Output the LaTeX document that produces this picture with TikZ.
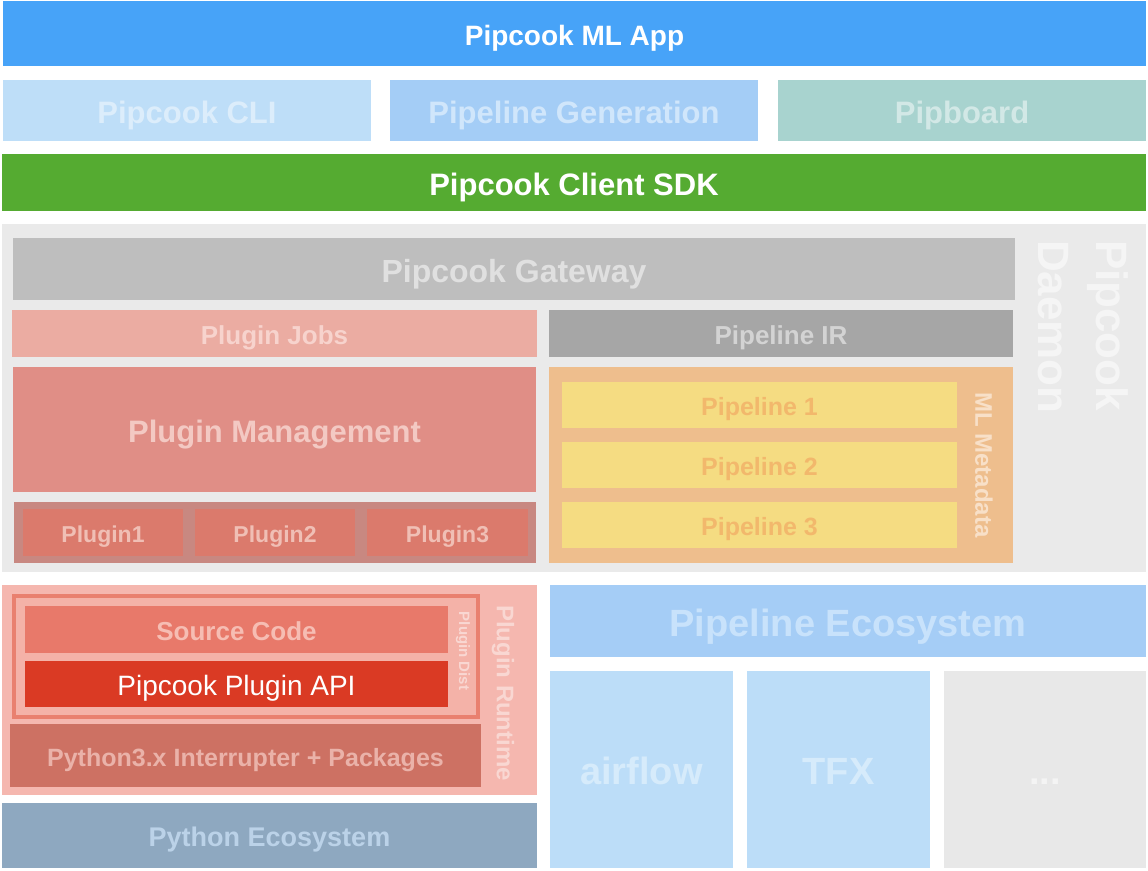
\documentclass[tikz,border=0pt]{standalone}
\usepackage{fontspec}
\setmainfont{Liberation Sans}
\newcommand\fz[1]{\fontsize{#1}{#1}\selectfont\bfseries}
\newcommand\fr[1]{\fontsize{#1}{#1}\selectfont}
\definecolor{cApp}{HTML}{47A3F8}
\definecolor{cCli}{HTML}{BEDEF8}
\definecolor{tCli}{HTML}{DCEDFB}
\definecolor{cGen}{HTML}{A4CDF6}
\definecolor{tGen}{HTML}{D0E6FB}
\definecolor{cBoard}{HTML}{A8D3CF}
\definecolor{tBoard}{HTML}{D2E8E6}
\definecolor{cSdk}{HTML}{55AB31}
\definecolor{cDaemon}{HTML}{EAEAEA}
\definecolor{tDaemon}{HTML}{F5F5F5}
\definecolor{cGate}{HTML}{BEBEBE}
\definecolor{tGate}{HTML}{E0E0E0}
\definecolor{cJobs}{HTML}{EBACA2}
\definecolor{tJobs}{HTML}{F7D3CD}
\definecolor{cIR}{HTML}{A6A6A6}
\definecolor{tIR}{HTML}{D3D3D3}
\definecolor{cMgmt}{HTML}{E08E86}
\definecolor{tMgmt}{HTML}{F3C9C3}
\definecolor{cPlugs}{HTML}{C88881}
\definecolor{cPlug}{HTML}{DB7A6C}
\definecolor{tPlug}{HTML}{F0BFB5}
\definecolor{cMeta}{HTML}{EEBE8D}
\definecolor{tMeta}{HTML}{F8E0C8}
\definecolor{cPipe}{HTML}{F5DC82}
\definecolor{tPipe}{HTML}{F2B86C}
\definecolor{cRun}{HTML}{F5B7AF}
\definecolor{cDistIn}{HTML}{F4B2A8}
\definecolor{tRun}{HTML}{F9D7D2}
\definecolor{cFrame}{HTML}{E9806F}
\definecolor{cSrc}{HTML}{E8796A}
\definecolor{tSrc}{HTML}{F6BDB3}
\definecolor{cApi}{HTML}{DA3A24}
\definecolor{cPy}{HTML}{CD7163}
\definecolor{tPy}{HTML}{EAB2A9}
\definecolor{cPyEco}{HTML}{8EA8C0}
\definecolor{tPyEco}{HTML}{BBD2E8}
\definecolor{cPlEco}{HTML}{A5CDF6}
\definecolor{tPlEco}{HTML}{C8E2FB}
\definecolor{cTool}{HTML}{BCDDF8}
\definecolor{tTool}{HTML}{D6EBFB}
\definecolor{cMore}{HTML}{E8E8E8}
\definecolor{tMore}{HTML}{F4F4F4}
\begin{document}
\begin{tikzpicture}[x=1pt,y=-1pt,
  blk/.style={rectangle, draw=none, inner sep=0pt, outer sep=0pt, anchor=north west, text depth=0pt},
  fb/.style 2 args={font=\fz{#1}, text height=#2pt},
  fn/.style 2 args={font=\fr{#1}, text height=#2pt},
  vlbl/.style={inner sep=0pt, outer sep=0pt, rotate=-90}]
\useasboundingbox (0,0) rectangle (1148,870);
\fill[white] (0,0) rectangle (1148,870);
% top layers
\node[blk, fill=cApp, minimum width=1143pt, minimum height=65pt, text=white, fb={28}{23}] (app) at (3,1) {Pipcook ML App};
\node[blk, fill=cCli, minimum width=368pt, minimum height=61pt, text=tCli, fb={31}{25}] (cli) at (3,80) {Pipcook CLI};
\node[blk, fill=cGen, minimum width=368pt, minimum height=61pt, text=tGen, fb={31}{25}] (gen) at (390,80) {Pipeline Generation};
\node[blk, fill=cBoard, minimum width=368pt, minimum height=61pt, text=tBoard, fb={31}{25}] (board) at (778,80) {Pipboard};
\node[blk, fill=cSdk, minimum width=1144pt, minimum height=57pt, text=white, fb={31}{25}] (sdk) at (2,154) {Pipcook Client SDK};
% daemon
\node[blk, fill=cDaemon, minimum width=1144pt, minimum height=348pt] (daemon) at (2,224) {};
\node[vlbl, anchor=north west, text=tDaemon, align=left, font=\fontsize{44}{58}\selectfont\bfseries] (daemonlbl) at (1128,240) {Pipcook\\Daemon};
\node[blk, fill=cGate, minimum width=1002pt, minimum height=62pt, text=tGate, fb={32}{26}] (gate) at (13,238) {Pipcook Gateway};
\node[blk, fill=cJobs, minimum width=525pt, minimum height=47pt, text=tJobs, fb={26}{21.5}] (jobs) at (12,310) {Plugin Jobs};
\node[blk, fill=cIR, minimum width=464pt, minimum height=47pt, text=tIR, fb={26}{21.5}] (ir) at (549,310) {Pipeline IR};
\node[blk, fill=cMgmt, minimum width=523pt, minimum height=125pt, text=tMgmt, fb={31}{25}] (mgmt) at (13,367) {Plugin Management};
\node[blk, fill=cPlugs, minimum width=522pt, minimum height=61pt] (plugs) at (14,502) {};
\node[blk, fill=cPlug, minimum width=160pt, minimum height=47pt, text=tPlug, fb={23}{19}] (p1) at (23,509) {Plugin1};
\node[blk, fill=cPlug, minimum width=160pt, minimum height=47pt, text=tPlug, fb={23}{19}] (p2) at (195,509) {Plugin2};
\node[blk, fill=cPlug, minimum width=161pt, minimum height=47pt, text=tPlug, fb={23}{19}] (p3) at (367,509) {Plugin3};
\node[blk, fill=cMeta, minimum width=464pt, minimum height=196pt] (meta) at (549,367) {};
\node[blk, fill=cPipe, minimum width=395pt, minimum height=46pt, text=tPipe, fb={25}{21}] (pl1) at (562,382) {Pipeline 1};
\node[blk, fill=cPipe, minimum width=395pt, minimum height=46pt, text=tPipe, fb={25}{21}] (pl2) at (562,442) {Pipeline 2};
\node[blk, fill=cPipe, minimum width=395pt, minimum height=46pt, text=tPipe, fb={25}{21}] (pl3) at (562,502) {Pipeline 3};
\node[vlbl, text=tMeta, font=\fz{24}] (metalbl) at (984,465) {ML Metadata};
% plugin runtime
\node[blk, fill=cRun, minimum width=535pt, minimum height=210pt] (run) at (2,585) {};
\node[vlbl, text=tRun, font=\fz{24}] (runlbl) at (503,693) {Plugin Runtime};
\node[blk, draw=cFrame, line width=4pt, fill=cDistIn, minimum width=464pt, minimum height=121pt] (dist) at (14,596) {};
\node[vlbl, text=tRun, font=\fz{15}] (distlbl) at (463,651) {Plugin Dist};
\node[blk, fill=cSrc, minimum width=423pt, minimum height=47pt, text=tSrc, fb={26}{21.5}] (src) at (25,606) {Source Code};
\node[blk, fill=cApi, minimum width=423pt, minimum height=46pt, text=white, fn={28}{23}] (api) at (25,661) {Pipcook Plugin API};
\node[blk, fill=cPy, minimum width=471pt, minimum height=63pt, text=tPy, fb={25}{21}] (py) at (10,724) {Python3.x Interrupter + Packages};
\node[blk, fill=cPyEco, minimum width=535pt, minimum height=65pt, text=tPyEco, fb={27}{22}] (pyeco) at (2,803) {Python Ecosystem};
% pipeline ecosystem
\node[blk, fill=cPlEco, minimum width=596pt, minimum height=72pt, text=tPlEco, fb={38}{30.5}] (pleco) at (550,585) {Pipeline Ecosystem};
\node[blk, fill=cTool, minimum width=183pt, minimum height=197pt, text=tTool, fb={38}{30.5}] (airflow) at (550,671) {airflow};
\node[blk, fill=cTool, minimum width=183pt, minimum height=197pt, text=tTool, fb={38}{30.5}] (tfx) at (747,671) {TFX};
\node[blk, fill=cMore, minimum width=202pt, minimum height=197pt, text=tMore, fb={38}{30.5}] (more) at (944,671) {...};
\end{tikzpicture}
\end{document}
